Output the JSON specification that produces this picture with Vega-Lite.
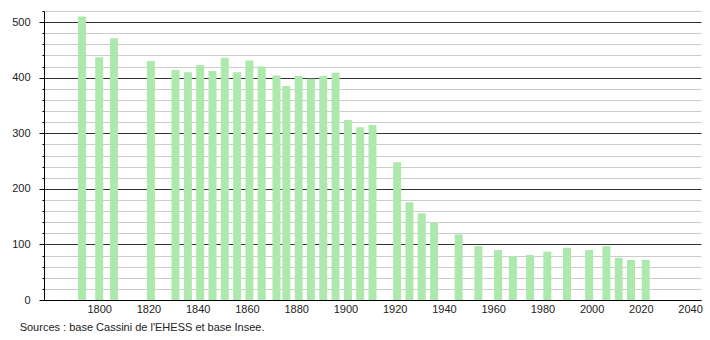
{
  "$schema": "https://vega.github.io/schema/vega-lite/v6.json",
  "width": 657,
  "height": 289,
  "autosize": {"type": "none"},
  "padding": {"left": 44, "top": 11, "right": 9, "bottom": 40},
  "background": "white",
  "config": {
    "view": {"stroke": null},
    "font": "Liberation Sans",
    "axis": {"labelFont": "Liberation Sans", "labelFontSize": 11, "labelColor": "#222"}
  },
  "title": {
    "text": "Sources : base Cassini de l'EHESS et base Insee.",
    "orient": "bottom",
    "anchor": "start",
    "frame": "bounds",
    "offset": 8,
    "dx": 8,
    "fontSize": 11,
    "fontWeight": "normal",
    "font": "Liberation Sans",
    "color": "#222"
  },
  "data": {
    "values": [
      {"year": 1793, "pop": 510},
      {"year": 1800, "pop": 437},
      {"year": 1806, "pop": 471},
      {"year": 1821, "pop": 430},
      {"year": 1831, "pop": 414},
      {"year": 1836, "pop": 410},
      {"year": 1841, "pop": 423},
      {"year": 1846, "pop": 412},
      {"year": 1851, "pop": 436},
      {"year": 1856, "pop": 410},
      {"year": 1861, "pop": 431},
      {"year": 1866, "pop": 420},
      {"year": 1872, "pop": 404},
      {"year": 1876, "pop": 385},
      {"year": 1881, "pop": 403},
      {"year": 1886, "pop": 398},
      {"year": 1891, "pop": 403},
      {"year": 1896, "pop": 409},
      {"year": 1901, "pop": 324},
      {"year": 1906, "pop": 311},
      {"year": 1911, "pop": 315},
      {"year": 1921, "pop": 248},
      {"year": 1926, "pop": 176},
      {"year": 1931, "pop": 156},
      {"year": 1936, "pop": 140},
      {"year": 1946, "pop": 118},
      {"year": 1954, "pop": 97},
      {"year": 1962, "pop": 90},
      {"year": 1968, "pop": 79},
      {"year": 1975, "pop": 81},
      {"year": 1982, "pop": 87},
      {"year": 1990, "pop": 94},
      {"year": 1999, "pop": 90},
      {"year": 2006, "pop": 97},
      {"year": 2011, "pop": 76},
      {"year": 2016, "pop": 72},
      {"year": 2022, "pop": 72}
    ]
  },
  "mark": {"type": "bar", "width": 8, "color": "#ade8ad"},
  "encoding": {
    "x": {
      "field": "year",
      "type": "quantitative",
      "scale": {"domain": [1779.6, 2042.4], "nice": false, "zero": false},
      "axis": {
        "title": null,
        "values": [1800, 1820, 1840, 1860, 1880, 1900, 1920, 1940, 1960, 1980, 2000, 2020, 2040],
        "format": "d",
        "grid": false,
        "ticks": false,
        "labelPadding": 3,
        "domainColor": "#000",
        "domainWidth": 1,
        "labelFlush": false
      }
    },
    "y": {
      "field": "pop",
      "type": "quantitative",
      "scale": {"domain": [0, 520], "nice": false},
      "axis": {
        "title": null,
        "values": [0, 20, 40, 60, 80, 100, 120, 140, 160, 180, 200, 220, 240, 260, 280, 300, 320, 340, 360, 380, 400, 420, 440, 460, 480, 500, 520],
        "labelExpr": "datum.value % 100 === 0 ? datum.label : ''",
        "grid": true,
        "gridColor": {"condition": {"test": "datum.value % 100 === 0", "value": "#333333"}, "value": "#cccccc"},
        "gridWidth": 1,
        "tickColor": "#000",
        "tickSize": {"condition": {"test": "datum.value % 100 === 0", "value": 5}, "value": 2},
        "labelPadding": 9,
        "domainColor": "#000",
        "labelFlush": false,
        "labelBound": false
      }
    }
  }
}
